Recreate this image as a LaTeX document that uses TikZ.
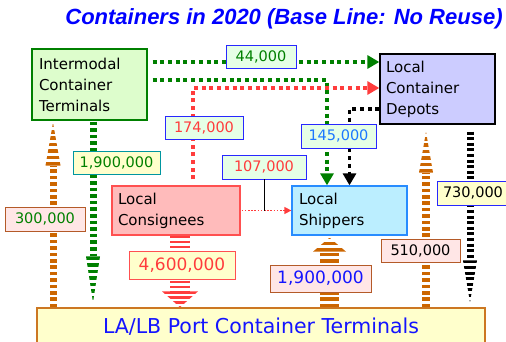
\documentclass[tikz,border=0pt]{standalone}
\usepackage{fontspec}
\setmainfont{DejaVu Sans}
\newfontfamily\titlefont{Liberation Sans}
\usetikzlibrary{calc,arrows.meta}

\definecolor{icfill}{RGB}{221,253,204}
\definecolor{icline}{RGB}{0,128,0}
\definecolor{depfill}{RGB}{204,204,255}
\definecolor{confill}{RGB}{255,187,187}
\definecolor{conline}{RGB}{255,80,80}
\definecolor{shpfill}{RGB}{187,238,255}
\definecolor{shpline}{RGB}{40,140,255}
\definecolor{portfill}{RGB}{255,255,204}
\definecolor{portline}{RGB}{204,119,34}
\definecolor{lblgreen}{RGB}{230,255,230}
\definecolor{lblpink}{RGB}{255,230,230}
\definecolor{lblyellow}{RGB}{255,255,204}
\definecolor{lblblue}{RGB}{40,40,255}
\definecolor{lblbrown}{RGB}{180,90,40}
\definecolor{lblteal}{RGB}{0,150,160}
\definecolor{stripeorange}{RGB}{204,102,0}
\definecolor{dotred}{RGB}{255,60,60}
\definecolor{txtgreen}{RGB}{0,128,0}
\definecolor{txtred}{RGB}{255,60,60}
\definecolor{txtblue}{RGB}{30,120,255}
\definecolor{txtdeep}{RGB}{20,20,255}

% striped block arrow: #1 style, #2 shaft width, #3 head half-width,
% #4 head length, #5 start, #6 tip
\newcommand\stripearrow[6]{%
  \coordinate (sa-base) at ($(#6)!#4!(#5)$);
  \draw[#1, line width=#2] (#5) -- (sa-base);
  \begin{scope}
    \clip (#6) -- ($(sa-base)!#3!90:(#6)$) -- ($(sa-base)!#3!-90:(#6)$) -- cycle;
    \draw[#1, line width=3*#3] (sa-base) -- (#6);
  \end{scope}}

\begin{document}
\begin{tikzpicture}[x=1pt,y=-1pt,
  box/.style={draw, line width=1.3pt, inner xsep=7pt, inner ysep=0pt,
    align=left, font=\fontsize{15}{21}\selectfont},
  lbl/.style={draw, line width=0.9pt, inner sep=0pt,
    font=\fontsize{14.5}{16}\selectfont},
  biglbl/.style={lbl, font=\fontsize{17}{19}\selectfont},
  gdot/.style={draw=icline, line width=3.5pt, dash pattern=on 4pt off 3.7pt,
    -{Triangle[length=12pt,width=13pt]}, icline},
  rdot/.style={draw=dotred, line width=3.5pt, dash pattern=on 4pt off 3.7pt,
    -{Triangle[length=12pt,width=13pt]}, dotred},
  kdot/.style={draw=black, line width=3.5pt, dash pattern=on 4pt off 3.7pt,
    -{Triangle[length=12pt,width=13pt]}},
  rthin/.style={draw=dotred, line width=1.4pt, dash pattern=on 1.6pt off 1.6pt,
    -{Triangle[length=7pt,width=7pt]}, dotred},
  ostripe/.style={stripeorange, dash pattern=on 3.6pt off 2.8pt},
  gstripe/.style={icline, dash pattern=on 3.6pt off 3pt},
  rstripe/.style={dotred, dash pattern=on 2.6pt off 2.4pt},
  kstripe/.style={black, dash pattern=on 3pt off 2.6pt}]

\useasboundingbox (0,0) rectangle (506,342);
\fill[white] (0,0) rectangle (506,342);

% title
\node[font=\titlefont\bfseries\itshape\fontsize{22}{26}\selectfont, text=blue]
  (title) at (284,19) {Containers in 2020 (Base Line: No Reuse)};

% boxes
\node[box, draw=icline, fill=icfill, minimum width=115pt, minimum height=71pt,
  text width=101pt] (ict) at (89.5,84.5) {Intermodal\\Container\\Terminals};
\node[box, draw=black, fill=depfill, minimum width=115pt, minimum height=70pt,
  inner xsep=6pt, text width=103pt] (dep) at (437.5,89) {Local\\Container\\Depots};
\node[box, draw=conline, fill=confill, minimum width=128pt, minimum height=49pt,
  inner xsep=6pt, text width=116pt] (con) at (176,210.5) {Local\\Consignees};
\node[box, draw=shpline, fill=shpfill, minimum width=115pt, minimum height=49pt,
  text width=101pt] (shp) at (349.5,210.5) {Local\\Shippers};
\node[draw=portline, fill=portfill, line width=1.3pt, minimum width=448pt,
  minimum height=38pt, inner sep=0pt, text=txtdeep,
  font=\fontsize{20.5}{24}\selectfont] (port) at (261,327)
  {LA/LB Port Container Terminals};

% dotted flows
\draw[gdot, shorten <=5pt] ([yshift=22.5pt]ict.east) -- ([yshift=27pt]dep.west);
\draw[gdot, shorten <=5pt] ([yshift=4.5pt]ict.east) -| ([xshift=-22.5pt]shp.north);
\draw[rdot, shorten <=6pt] ([xshift=17pt]con.north) |- ([yshift=1pt]dep.west);
\draw[kdot] ([yshift=-20pt]dep.west) -| (shp.north);
\draw[rthin, shorten <=1pt] (con.east) -- (shp.west);

% striped flows
\coordinate (a6top) at ([xshift=-36.5pt,yshift=-2pt]ict.south);
\coordinate (a6bot) at (a6top |- port.north);
\stripearrow{ostripe}{7pt}{7.5pt}{43pt}{a6bot}{a6top}

\coordinate (a7top) at ([xshift=3.5pt,yshift=-1pt]ict.south);
\coordinate (a7p) at (a7top |- port.north);
\coordinate (a7bot) at ([yshift=5pt]a7p);
\stripearrow{gstripe}{7pt}{7pt}{46pt}{a7top}{a7bot}

\coordinate (a8top) at ([xshift=4pt]con.south);
\coordinate (a8bot) at (a8top |- port.north);
\stripearrow{rstripe}{20pt}{18pt}{16pt}{a8top}{a8bot}

\coordinate (a9top) at ([xshift=-20pt,yshift=-2pt]shp.south);
\coordinate (a9bot) at (a9top |- port.north);
\stripearrow{ostripe}{19pt}{16.5pt}{14pt}{a9bot}{a9top}

\coordinate (a10top) at ([xshift=-11.5pt,yshift=-7pt]dep.south);
\coordinate (a10bot) at (a10top |- port.north);
\stripearrow{ostripe}{8pt}{7pt}{41pt}{a10bot}{a10top}

\coordinate (a11top) at ([xshift=32.5pt,yshift=-7pt]dep.south);
\coordinate (a11p) at (a11top |- port.north);
\coordinate (a11bot) at ([yshift=5pt]a11p);
\stripearrow{kstripe}{7pt}{7pt}{42pt}{a11top}{a11bot}

% flow labels
\node[lbl, draw=lblblue, fill=lblgreen, text=txtgreen, minimum width=70pt,
  minimum height=23pt] (l44) at (261,56.5) {44,000};
\node[lbl, draw=lblblue, fill=lblgreen, text=txtred, minimum width=78pt,
  minimum height=23pt] (l174) at (204,127.5) {174,000};
\node[lbl, draw=lblblue, fill=lblgreen, text=txtblue, minimum width=75pt,
  minimum height=24pt] (l145) at (338.5,136) {145,000};
\node[lbl, draw=lblblue, fill=lblgreen, text=txtred, minimum width=84pt,
  minimum height=24pt] (l107) at (264,167) {107,000};
\draw[line width=0.8pt] (l107.south) -- (l107.south |- con.east);
\node[lbl, draw=lblteal, fill=lblyellow, text=txtgreen, minimum width=87pt,
  minimum height=23pt] (l19a) at (116.5,162.5) {1,900,000};
\node[lbl, draw=lblbrown, fill=lblpink, text=txtgreen, minimum width=80pt,
  minimum height=24pt] (l300) at (45,219) {300,000};
\node[biglbl, draw=conline, fill=lblyellow, text=txtred, minimum width=106pt,
  minimum height=28pt] (l46) at (182,265) {4,600,000};
\node[biglbl, draw=lblbrown, fill=lblpink, text=txtdeep, minimum width=101pt,
  minimum height=27pt] (l19b) at (320.5,278.5) {1,900,000};
\node[lbl, draw=lblbrown, fill=lblpink, text=black, minimum width=79pt,
  minimum height=23pt] (l510) at (420.5,250.5) {510,000};
\node[lbl, draw=lblblue, fill=lblyellow, text=black, minimum width=72pt,
  minimum height=24pt] (l730) at (473,193) {730,000};
\end{tikzpicture}
\end{document}
